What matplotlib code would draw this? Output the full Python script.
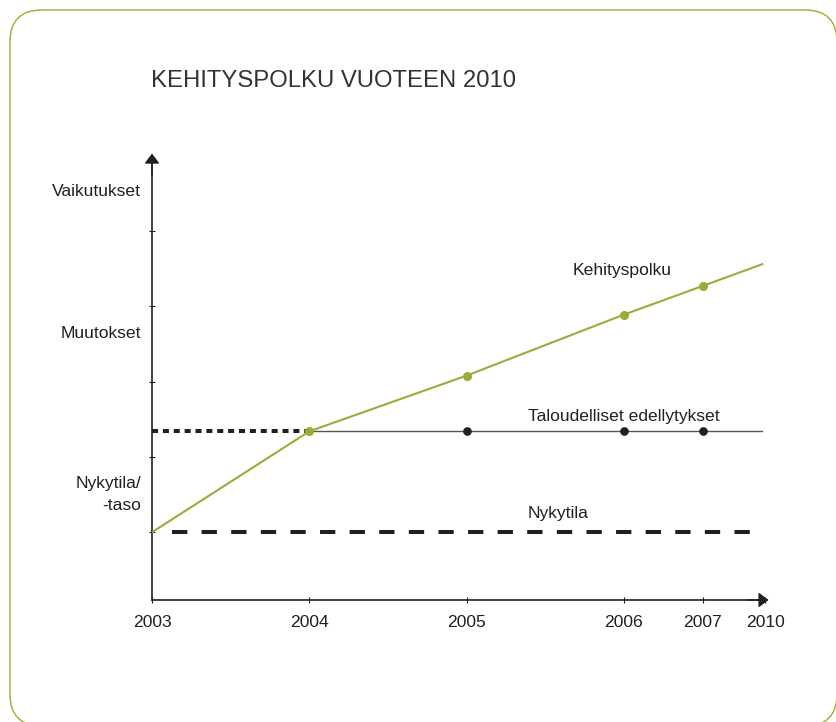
import matplotlib.pyplot as plt
from matplotlib.patches import FancyBboxPatch
from matplotlib.transforms import IdentityTransform

# time axis: labels and where they sit (the axis is not linear in years)
years = ['2003', '2004', '2005', '2006', '2007', '2010']
year_pos = [0, 1, 2, 3, 3.5, 3.9]

# Kehityspolku (development path)
path_x = [0, 1, 2, 3, 3.5, 3.88]
path_y = [1.0, 2.34, 3.08, 3.89, 4.27, 4.56]
path_dot_x = [1, 2, 3, 3.5]
path_dot_y = [2.34, 3.08, 3.89, 4.27]

# Taloudelliset edellytykset (economic preconditions)
econ_level = 2.34
econ_x = [1, 3.88]
econ_dot_x = [2, 3, 3.5]
econ_dotted_x = [0, 1]   # dotted part before 2004

# Nykytila (current state)
now_level = 1.0
now_x = [0.13, 3.87]

# vertical axis
level_ticks = [1, 2, 3, 4, 5]
level_labels = ['Vaikutukset', 'Muutokset', 'Nykytila/\n-taso']
level_label_y = [5.52, 3.64, 1.5]

title = 'KEHITYSPOLKU VUOTEEN 2010'

green = '#9cab37'
dark = '#231f20'
plt.rcParams['font.family'] = ['Liberation Sans', 'DejaVu Sans']
fs = 12.6

fig = plt.figure(figsize=(8.37, 7.22), dpi=100)
fig.patch.set_facecolor('white')

# rounded frame round the whole picture
frame = FancyBboxPatch((10, -4), 827, 716, boxstyle='round,pad=0,rounding_size=32',
                       transform=IdentityTransform(), facecolor='none',
                       edgecolor='#a8b142', lw=1.1)
fig.patches.append(frame)

fig.text(151 / 837, 1 - 81 / 722, title, ha='left', va='center',
         fontsize=17.2, color='#333333')

ax = fig.add_axes([152 / 837, 122 / 722, 616.6 / 837, 446.5 / 722])
ax.set_xlim(0, 3.92)
ax.set_ylim(0.1, 6.03)
ax.patch.set_alpha(0)

for s in ['top', 'right']:
    ax.spines[s].set_visible(False)
for s in ['left', 'bottom']:
    ax.spines[s].set_color(dark)
    ax.spines[s].set_linewidth(1.2)
ax.spines['bottom'].set_bounds(0, 3.86)
ax.spines['left'].set_bounds(0.1, 5.9)

# arrow heads
arrow = dict(arrowstyle='-|>,head_length=0.6,head_width=0.45', mutation_scale=10,
             color=dark, lw=1.0, shrinkA=0, shrinkB=0)
ax.annotate('', xy=(3.92, 0.1), xytext=(3.78, 0.1), arrowprops=arrow, annotation_clip=False)
ax.annotate('', xy=(0, 6.03), xytext=(0, 5.75), arrowprops=arrow, annotation_clip=False)

ax.set_xticks(year_pos, years)
ax.set_yticks(level_ticks, [])
ax.tick_params(axis='x', direction='inout', length=5, width=0.8, color=dark,
               labelsize=fs, labelcolor=dark, pad=8)
ax.tick_params(axis='y', direction='inout', length=5, width=0.8, color=dark)

for lab, y in zip(level_labels, level_label_y):
    ax.text(-0.07, y, lab, ha='right', va='center', fontsize=fs, color=dark,
            multialignment='right', linespacing=1.55, clip_on=False)

# Nykytila dashed line
ax.plot(now_x, [now_level] * 2, color=dark, lw=2.9, dashes=(3.8, 3.55), zorder=2)
# dotted part of the economic level
ax.plot(econ_dotted_x, [econ_level] * 2, color=dark, lw=2.9, dashes=(1.5, 1.2), zorder=2)
# economic level line and dots
ax.plot(econ_x, [econ_level] * 2, color='#555555', lw=1.0, zorder=2)
ax.plot(econ_dot_x, [econ_level] * len(econ_dot_x), 'o', color=dark, ms=5.2, zorder=3)
# development path
ax.plot(path_x, path_y, color=green, lw=1.5, zorder=4)
ax.plot(path_dot_x, path_dot_y, 'o', color=green, ms=5.5, zorder=5)

ax.text(2.676, 4.48, 'Kehityspolku', ha='left', va='center', fontsize=fs, color=dark)
ax.text(2.39, 2.54, 'Taloudelliset edellytykset', ha='left', va='center', fontsize=fs, color=dark)
ax.text(2.39, 1.25, 'Nykytila', ha='left', va='center', fontsize=fs, color=dark)

fig.savefig('out.png', dpi=100)
